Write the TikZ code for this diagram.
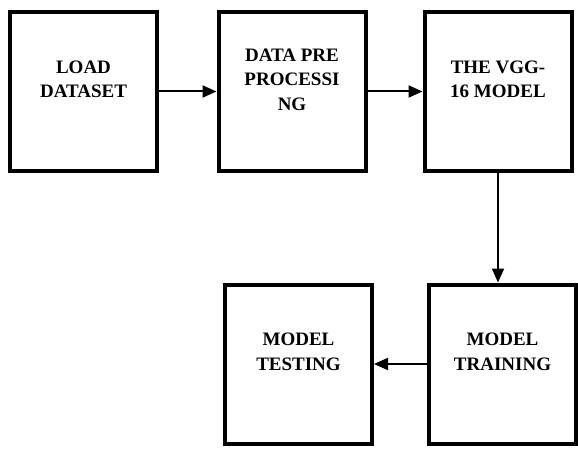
\documentclass[tikz,border=0pt]{standalone}
\usepackage{fontspec}
\setmainfont{Liberation Serif}
\usetikzlibrary{arrows.meta,calc}
\tikzstyle{block}=[draw, line width=4pt, minimum width=147pt, minimum height=159pt, inner sep=0pt]
\tikzstyle{blocktext}=[font=\bfseries\fontsize{19}{24.5}\selectfont, align=center]
\tikzstyle{flow}=[line width=2pt, -{Triangle[length=14pt,width=12pt]}]
% one stage of the pipeline: name, centre, text
\newcommand{\stage}[3]{
 \node[block] (#1) at #2 {};
 \node[blocktext] (#1-txt) at ($ #2 + (0,12) $) {#3};
}
\begin{document}
\begin{tikzpicture}[x=1pt,y=1pt]
 \useasboundingbox (0,0) rectangle (578,448);
%
 \stage{load}{(83.5,356.5)}{LOAD\\DATASET}
 \stage{prep}{(292,356.5)}{DATA PRE\\PROCESSI\\NG}
 \stage{vgg}{(498,356.5)}{THE VGG-\\16 MODEL}
%
 \stage{train}{(502.5,84)}{MODEL\\TRAINING}
 \stage{test}{(298.5,84)}{MODEL\\TESTING}
%
 \draw[flow] (load) -- (prep);
 \draw[flow] (prep) -- (vgg);
 \draw[flow] (vgg.south) -- (vgg.south |- train.north);
 \draw[flow] (train) -- (test);
\end{tikzpicture}
\end{document}
